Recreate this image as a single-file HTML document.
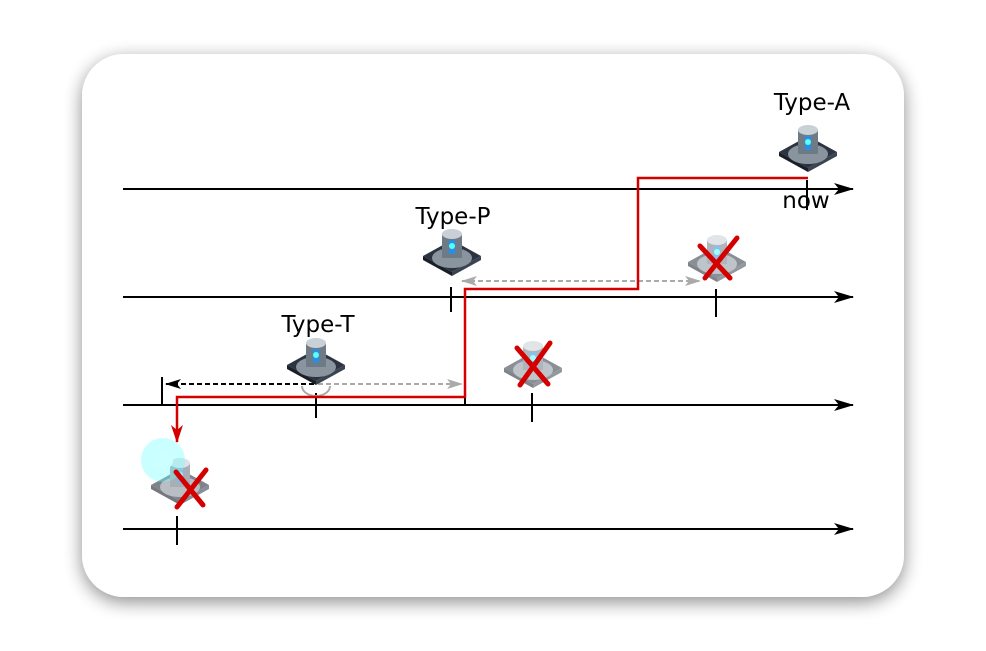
<!DOCTYPE html>
<html><head><meta charset="utf-8"><style>
html,body{margin:0;padding:0;background:#fff;}
svg{display:block;font-family:"DejaVu Sans","Liberation Sans",sans-serif;}
</style></head><body>
<svg width="986" height="651" viewBox="0 0 986 651">
<defs>
<filter id="sh" x="-10%" y="-10%" width="120%" height="125%"><feGaussianBlur in="SourceAlpha" stdDeviation="9"/><feOffset dx="0" dy="5"/><feComponentTransfer><feFuncA type="linear" slope="0.45"/></feComponentTransfer><feMerge><feMergeNode/><feMergeNode in="SourceGraphic"/></feMerge></filter>
<marker id="ab" markerWidth="20" markerHeight="12" refX="19" refY="6" orient="auto" markerUnits="userSpaceOnUse"><path d="M0,0 L20,6 L0,12 L5,6 Z" fill="#000"/></marker>
<marker id="ar" markerWidth="18" markerHeight="12" refX="17" refY="6" orient="auto" markerUnits="userSpaceOnUse"><path d="M0,0 L18,6 L0,12 L5,6 Z" fill="#d40000"/></marker>
<marker id="ag" markerWidth="16" markerHeight="10" refX="15" refY="5" orient="auto-start-reverse" markerUnits="userSpaceOnUse"><path d="M0,0 L16,5 L0,10 L4,5 Z" fill="#aaa"/></marker>
<marker id="ak" markerWidth="16" markerHeight="10" refX="15" refY="5" orient="auto" markerUnits="userSpaceOnUse"><path d="M0,0 L16,5 L0,10 L4,5 Z" fill="#000"/></marker>
<g id="icon">
<path d="M-29,0 L0,-16 L29,0 L0,16 Z" fill="#2b3440"/>
<path d="M-29,0 L0,16 L0,20 L-29,4 Z" fill="#1a1f27"/>
<path d="M29,0 L0,16 L0,20 L29,4 Z" fill="#3a4450"/>
<ellipse cx="0" cy="2" rx="20" ry="10" fill="#8a949e"/>
<rect x="-10" y="-22" width="20" height="24" fill="#6e7a86"/>
<ellipse cx="0" cy="-22" rx="10" ry="5" fill="#c9d0d6"/>
<rect x="-3" y="-16" width="6" height="14" fill="#2a8fe0"/>
<circle cx="0" cy="-10" r="3" fill="#5ff"/>
</g>
</defs>

<rect x="82" y="54" width="822" height="543" rx="42" fill="#fff" filter="url(#sh)"/>

<g stroke="#000" stroke-width="2">
<line x1="123" y1="189" x2="853" y2="189" marker-end="url(#ab)"/>
<line x1="123" y1="297" x2="853" y2="297" marker-end="url(#ab)"/>
<line x1="123" y1="405" x2="853" y2="405" marker-end="url(#ab)"/>
<line x1="123" y1="529" x2="853" y2="529" marker-end="url(#ab)"/>
<line x1="807" y1="180" x2="807" y2="210"/>
<line x1="451" y1="287" x2="451" y2="312"/>
<line x1="716" y1="289" x2="716" y2="317"/>
<line x1="316" y1="393" x2="316" y2="418"/>
<line x1="532" y1="393" x2="532" y2="422"/>
<line x1="162" y1="377" x2="162" y2="405"/>
<line x1="465" y1="377" x2="465" y2="405"/>
<line x1="177" y1="516" x2="177" y2="545"/>
</g>

<g>
<line x1="314" y1="384" x2="166" y2="384" stroke="#000" stroke-width="2" stroke-dasharray="5,3" marker-end="url(#ak)"/>
<line x1="318" y1="384" x2="462" y2="384" stroke="#aaa" stroke-width="2" stroke-dasharray="5,3" marker-end="url(#ag)"/>
<path d="M302,386 A14,10 0 0 0 330,386" fill="none" stroke="#aaa" stroke-width="2"/>
<line x1="462" y1="281" x2="700" y2="281" stroke="#aaa" stroke-width="2" stroke-dasharray="5,3" marker-start="url(#ag)" marker-end="url(#ag)"/>
</g>

<path d="M808,178 L638,178 L638,289 L465,289 L465,397 L177,397 L177,442" fill="none" stroke="#d40000" stroke-width="2.5" marker-end="url(#ar)"/>

<use href="#icon" x="808" y="152"/>
<use href="#icon" x="452" y="256"/>
<use href="#icon" x="316" y="365"/>
<g opacity="0.55"><use href="#icon" x="717" y="262"/></g>
<g opacity="0.55"><use href="#icon" x="533" y="368"/></g>
<g opacity="0.6"><use href="#icon" x="180" y="485"/></g>
<g>
<circle cx="163" cy="460" r="22" fill="#6ff" opacity="0.35"/>
<circle cx="163" cy="460" r="10" fill="#cff"/>
</g>

<g stroke="#d40000" stroke-width="5" stroke-linecap="round">
<path d="M700,246 L730,278 M737,238 L705,278"/>
<path d="M517,348 L548,384 M550,343 L520,385"/>
<path d="M176,472 L203,505 M206,470 L177,507"/>
</g>

<g font-size="23" fill="#000">
<text x="812" y="110" text-anchor="middle">Type-A</text>
<text x="806" y="208" text-anchor="middle">now</text>
<text x="453" y="224" text-anchor="middle">Type-P</text>
<text x="318" y="332" text-anchor="middle">Type-T</text>
</g>
</svg>
</body></html>
